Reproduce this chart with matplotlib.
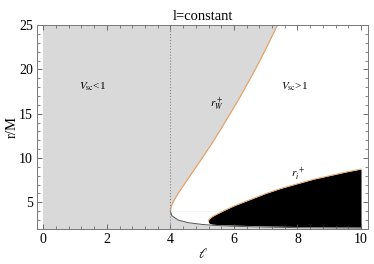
import matplotlib

matplotlib.use("Agg")
import matplotlib.pyplot as plt
from matplotlib.ticker import MultipleLocator

plt.rcParams["font.family"] = ["Liberation Serif", "DejaVu Serif"]
plt.rcParams["mathtext.fontset"] = "stix"

# boundary V_sc = 1, upper branch (r_W^+)
r_up = [4.0, 4.5, 5.0, 6.0, 7.0, 8.0, 10.0, 12.0, 15.0, 17.0, 20.0, 22.0, 25.0]
ell_up = [4.0, 4.02, 4.08, 4.24, 4.43, 4.62, 5.0, 5.37, 5.88, 6.21, 6.67, 6.96, 7.37]

# lower branch of the same boundary
r_low = [2.09, 2.1, 2.15, 2.2, 2.3, 2.4, 2.5, 2.7, 3.0, 3.5, 4.0]
ell_low = [10.0, 9.39, 7.85, 6.96, 5.94, 5.37, 5.0, 4.56, 4.24, 4.04, 4.0]

# black region (r_i^+)
ell_black = [5.19, 5.21, 5.25, 5.32, 5.45, 5.7, 6.0, 6.5, 7.0, 7.5, 8.0, 8.5, 9.0, 9.5, 10.0]
r_black_top = [2.85, 3.05, 3.2, 3.4, 3.65, 4.1, 4.6, 5.3, 6.0, 6.6, 7.1, 7.6, 8.0, 8.4, 8.75]
r_black_bot = [2.85, 2.68, 2.6, 2.54, 2.5, 2.46, 2.43, 2.38, 2.33, 2.3, 2.27, 2.25, 2.22, 2.21, 2.2]

ell_range = [0.0, 10.0]
r_range = [2.0, 25.0]
ell_marg = 4.0

GRAY = "#d9d9d9"
ORANGE = "#e8a060"

fig = plt.figure(figsize=(3.74, 2.64), dpi=100)
ax = fig.add_axes([0.099, 0.133, 0.885, 0.772])

ax.fill_between(ell_range, r_range[0], r_range[1], color=GRAY, lw=0)
ax.fill_betweenx(r_up, ell_up, ell_range[1], color="white", lw=0)
ax.fill_betweenx(r_low, ell_low, ell_range[1], color="white", lw=0)
ax.fill_between(ell_black, r_black_bot, r_black_top, color="black", lw=0)

ax.plot(ell_up, r_up, color=ORANGE, lw=0.8)
ax.plot(ell_low, r_low, color="#555555", lw=0.7)
ax.plot(ell_black, r_black_top, color=ORANGE, lw=0.6)
ax.axvline(ell_marg, color="#888888", ls=":", lw=0.8)

ax.text(1.55, 18.0, r"$V_{\rm sc}$<1", ha="center", va="center", fontsize=8)
ax.text(7.9, 18.0, r"$V_{\rm sc}$>1", ha="center", va="center", fontsize=8)
ax.text(5.45, 16.1, r"$r_W^+$", ha="center", va="center", fontsize=8)
ax.text(8.0, 8.1, r"$r_i^{\,+}$", ha="center", va="center", fontsize=8)

ax.set_xlim(-0.2, 10.22)
ax.set_ylim(r_range[0], r_range[1])
ax.xaxis.set_major_locator(MultipleLocator(2))
ax.xaxis.set_minor_locator(MultipleLocator(0.4))
ax.yaxis.set_major_locator(MultipleLocator(5))
ax.yaxis.set_minor_locator(MultipleLocator(1))
ax.tick_params(which="both", direction="in", top=True, right=True,
               colors="#555555", labelcolor="black", labelsize=10)
ax.tick_params(which="major", length=3.5, width=0.6, pad=3)
ax.tick_params(which="minor", length=2, width=0.5)
for s in ax.spines.values():
    s.set_color("#777777")
    s.set_linewidth(0.7)

ax.set_title("l=constant", fontsize=10.5, pad=4)
ax.set_xlabel(r"$\ell$", fontsize=10, labelpad=1)
ax.set_ylabel("r/M", fontsize=10.5, labelpad=0)

fig.savefig("out.png", dpi=100)
